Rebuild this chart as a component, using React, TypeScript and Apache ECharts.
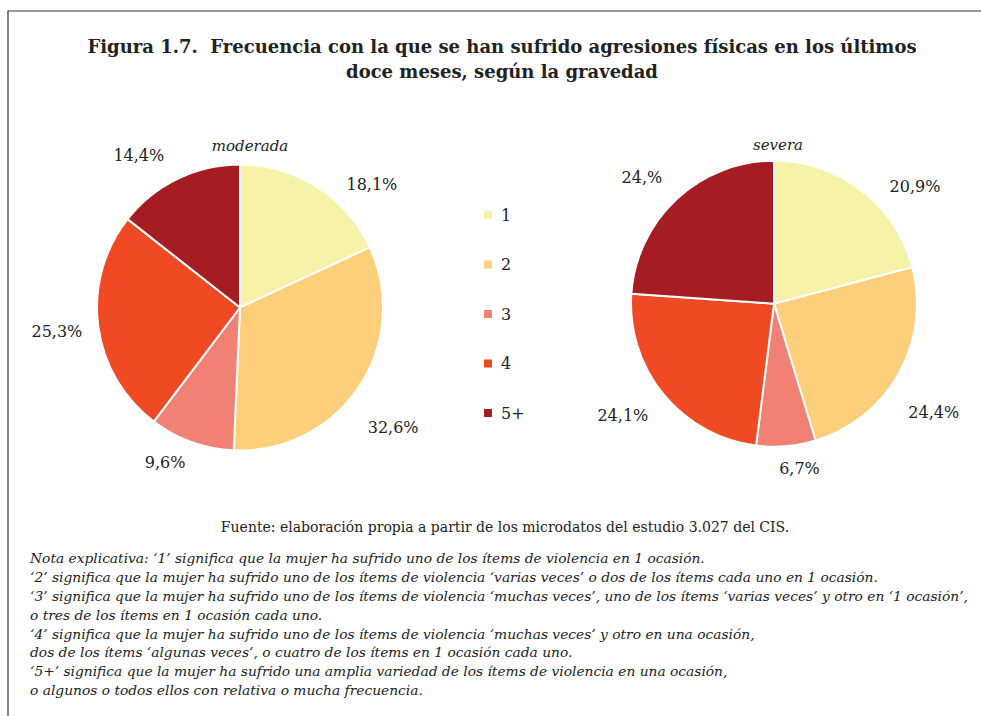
import React, { useEffect, useRef } from "react";
import * as echarts from "echarts";

const categories = ["1", "2", "3", "4", "5+"];
const moderadaValues = [18.1, 32.6, 9.6, 25.3, 14.4];
const severaValues = [20.9, 24.4, 6.7, 24.1, 23.9];
const moderadaLabels = ["18,1%", "32,6%", "9,6%", "25,3%", "14,4%"];
const severaLabels = ["20,9%", "24,4%", "6,7%", "24,1%", "24,%"];
const colors = ["#F6F3A8", "#FDCF7B", "#F28175", "#EF4A24", "#A51C23"];

const titleText =
  "Figura 1.7.  Frecuencia con la que se han sufrido agresiones físicas en los últimos\ndoce meses, según la gravedad";
const sourceText =
  "Fuente: elaboración propia a partir de los microdatos del estudio 3.027 del CIS.";
const noteLines = [
  "Nota explicativa: ‘1’ significa que la mujer ha sufrido uno de los ítems de violencia en 1 ocasión.",
  "‘2’ significa que la mujer ha sufrido uno de los ítems de violencia ‘varias veces’ o dos de los ítems cada uno en 1 ocasión.",
  "‘3’ significa que la mujer ha sufrido uno de los ítems de violencia ‘muchas veces’, uno de los ítems ‘varias veces’ y otro en ‘1 ocasión’,",
  "o tres de los ítems en 1 ocasión cada uno.",
  "‘4’ significa que la mujer ha sufrido uno de los ítems de violencia ‘muchas veces’ y otro en una ocasión,",
  "dos de los ítems ‘algunas veces’, o cuatro de los ítems en 1 ocasión cada uno.",
  "‘5+’ significa que la mujer ha sufrido una amplia variedad de los ítems de violencia en una ocasión,",
  "o algunos o todos ellos con relativa o mucha frecuencia.",
];

const labelNudges = [
  [[18, 8], [-6, 34], [3, 9], [1, 4], [-3, -13]],
  [[16, 6], [-6, 33], [-13, 10], [-1, 13], [-1, -13]],
];

const SERIF = "'DejaVu Serif', Georgia, serif";

export default function App() {
  const ref = useRef<HTMLDivElement>(null);
  useEffect(() => {
    if (!ref.current) return;
    const chart = echarts.init(ref.current, null, { renderer: "svg" });
    const makeSeries = (
      name: string,
      values: number[],
      labels: string[],
      center: [number, number],
      seriesIdx: number
    ) => ({
      type: "pie",
      name,
      center,
      radius: 143,
      startAngle: 90,
      clockwise: true,
      avoidLabelOverlap: false,
      itemStyle: { borderColor: "#fff", borderWidth: 2 },
      label: {
        show: true,
        position: "outside",
        color: "#222",
        fontFamily: SERIF,
        fontSize: 16,
        formatter: (p: any) => labels[p.dataIndex],
      },
      labelLine: { show: false, length: 12, length2: 0 },
      labelLayout: (params: any) => {
        const n = labelNudges[seriesIdx][params.dataIndex];
        return { dx: n[0], dy: n[1] };
      },
      emphasis: { disabled: true },
      data: categories.map((c, i) => ({ name: c, value: values[i] })),
    });
    chart.setOption({
      animation: false,
      color: colors,
      title: [
        {
          text: titleText,
          left: 497,
          top: 29,
          textAlign: "center",
          textStyle: { fontFamily: SERIF, fontWeight: "bold", fontSize: 18, lineHeight: 25, color: "#222" },
        },
        {
          text: "moderada",
          left: 245,
          top: 133,
          textAlign: "center",
          textStyle: { fontFamily: SERIF, fontStyle: "italic", fontWeight: "normal", fontSize: 15, color: "#222" },
        },
        {
          text: "severa",
          left: 773,
          top: 132,
          textAlign: "center",
          textStyle: { fontFamily: SERIF, fontStyle: "italic", fontWeight: "normal", fontSize: 15, color: "#222" },
        },
      ],
      legend: {
        orient: "vertical",
        left: 477,
        top: 200,
        itemWidth: 10,
        itemHeight: 10,
        itemGap: 29.5,
        icon: "rect",
        data: categories,
        selectedMode: false,
        textStyle: { fontFamily: SERIF, fontSize: 16, color: "#222", lineHeight: 20, padding: [0, 0, 0, 3] },
      },
      graphic: [
        {
          type: "rect",
          shape: { x: 8, y: 11, width: 1000, height: 800 },
          style: { fill: "none", stroke: "#333", lineWidth: 1.2 },
          silent: true,
        },
        {
          type: "text",
          x: 505,
          y: 527,
          style: {
            text: sourceText,
            fontFamily: SERIF,
            fontSize: 14,
            fill: "#222",
            align: "center",
            verticalAlign: "middle",
          },
        },
        {
          type: "text",
          x: 30,
          y: 549,
          style: {
            text: noteLines.join("\n"),
            fontFamily: SERIF,
            fontStyle: "italic",
            fontSize: 13.8,
            lineHeight: 18.8,
            fill: "#222",
            align: "left",
            verticalAlign: "top",
          },
        },
      ],
      series: [
        makeSeries("moderada", moderadaValues, moderadaLabels, [240, 307.5], 0),
        makeSeries("severa", severaValues, severaLabels, [774, 303.7], 1),
      ],
    });
    return () => chart.dispose();
  }, []);
  return (
    <div
      ref={ref}
      style={{ position: "fixed", left: 0, top: 0, width: 981, height: 716, background: "#fff" }}
    />
  );
}
